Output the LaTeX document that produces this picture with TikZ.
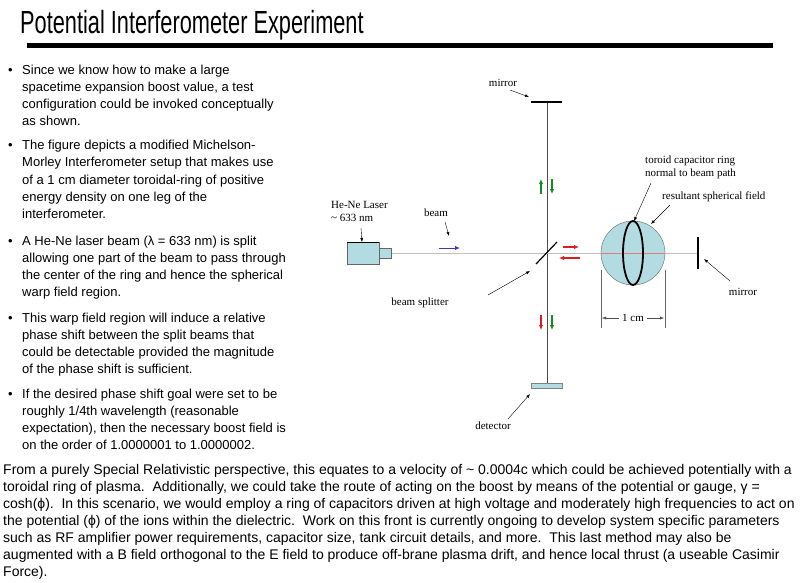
\documentclass[tikz,border=0pt]{standalone}
\usepackage{fontspec}
\setmainfont{Liberation Sans}
\newfontfamily\serifd{Liberation Serif}
\usetikzlibrary{arrows.meta}
\definecolor{lb}{RGB}{178,220,226}
\definecolor{dgreen}{RGB}{20,140,30}
\definecolor{dred}{RGB}{220,30,30}
\definecolor{dblue}{RGB}{60,60,170}
\begin{document}
\begin{tikzpicture}[x=1pt,y=-1pt,
  txt/.style={anchor=base west,inner sep=0,font=\fontsize{13}{15}\selectfont},
  par/.style={anchor=base west,inner sep=0,font=\fontsize{14}{16}\selectfont},
  lab/.style={inner sep=0,font=\serifd\fontsize{11}{13}\selectfont},
  ptr/.style={-{Latex[length=4pt,width=3pt]},black,line width=0.4pt},
  col/.style={-{Latex[length=5pt,width=4.5pt]},line width=1.6pt},
  beam/.style={line width=0.5pt}]
\useasboundingbox (0,0) rectangle (802,582);
\fill[white] (0,0) rectangle (802,582);
% title
\node[anchor=base west,inner sep=0,font=\fontsize{32}{36}\selectfont] (title) at (20,33) {\scalebox{0.68}[1]{Potential Interferometer Experiment}};
\fill (27,43) rectangle (773,48);
% bullets
\foreach \y in {74,149,245,322,398} \node[txt] at (8,\y) {•};
\node[txt] at (22,74) {Since we know how to make a large};
\node[txt] at (22,91) {spacetime expansion boost value, a test};
\node[txt] at (22,108) {configuration could be invoked conceptually};
\node[txt] at (22,125) {as shown.};
\node[txt] at (22,149) {The figure depicts a modified Michelson-};
\node[txt] at (22,166) {Morley Interferometer setup that makes use};
\node[txt] at (22,184) {of a 1 cm diameter toroidal-ring of positive};
\node[txt] at (22,201) {energy density on one leg of the};
\node[txt] at (22,218) {interferometer.};
\node[txt] at (22,245) {A He-Ne laser beam (λ = 633 nm) is split};
\node[txt] at (22,262) {allowing one part of the beam to pass through};
\node[txt] at (22,279) {the center of the ring and hence the spherical};
\node[txt] at (22,296) {warp field region.};
\node[txt] at (22,322) {This warp field region will induce a relative};
\node[txt] at (22,339) {phase shift between the split beams that};
\node[txt] at (22,356) {could be detectable provided the magnitude};
\node[txt] at (22,373) {of the phase shift is sufficient.};
\node[txt] at (22,398) {If the desired phase shift goal were set to be};
\node[txt] at (22,415) {roughly 1/4th wavelength (reasonable};
\node[txt] at (22,432) {expectation), then the necessary boost field is};
\node[txt] at (22,449) {on the order of 1.0000001 to 1.0000002.};
% bottom paragraph
\node[par] at (3,474) {From a purely Special Relativistic perspective, this equates to a velocity of \textasciitilde{} 0.0004c which could be achieved potentially with a};
\node[par] at (3,491) {toroidal ring of plasma.\ \ Additionally, we could take the route of acting on the boost by means of the potential or gauge, γ =};
\node[par] at (3,508) {cosh(ϕ).\ \ In this scenario, we would employ a ring of capacitors driven at high voltage and moderately high frequencies to act on};
\node[par] at (3,525) {the potential (ϕ) of the ions within the dielectric.\ \ Work on this front is currently ongoing to develop system specific parameters};
\node[par] at (3,542) {such as RF amplifier power requirements, capacitor size, tank circuit details, and more.\ \ This last method may also be};
\node[par] at (3,559) {augmented with a B field orthogonal to the E field to produce off-brane plasma drift, and hence local thrust (a useable Casimir};
\node[par] at (3,576) {Force).};
% ---- diagram ----
\coordinate (bs) at (547,253);
\coordinate (mt) at (547,102);
\coordinate (dt) at (547,383);
\coordinate (mr) at (698,253);
\coordinate (lz) at (391,253);
\draw[beam,black!70] (mt) -- (dt);
\draw[beam,black!25] (lz) -- (mr);
% sphere
\node[circle,draw=black!60,fill=lb,minimum size=64pt,inner sep=0] (sph) at (633,253) {};
\draw[beam,dred!60] (601,253) -- (665,253);
\draw[line width=1.8pt] (sph.center) ellipse (10 and 32);
% mirrors
\draw[line width=1.3pt] (531,102) -- (562,102);
\draw[line width=1.3pt] (698,237) -- (698,269);
% detector
\node[draw=black!50,fill=lb,minimum width=31pt,minimum height=5pt,inner sep=0] (det) at (547,385.5) {};
% laser
\node[draw=black!60,fill=lb,minimum width=32pt,minimum height=22pt,inner sep=0] (las) at (363,253) {};
\node[draw=black!60,fill=lb,minimum width=12pt,minimum height=10pt,inner sep=0] (noz) at (385,253) {};
\draw[line width=0.8pt] (347,242) -- (379,242);
% splitter
\draw[line width=1.2pt] (536,264) -- (557,242);
% coloured arrows
\draw[col,dblue,line width=1pt] (439,248) -- (460,248);
\draw[col,dred,line width=1.1pt] (563,247) -- (579,247);
\draw[col,dred,line width=1.1pt] (580,258) -- (559,258);
\draw[col,dgreen] (541,194) -- (541,179);
\draw[col,dgreen] (552,179) -- (552,194);
\draw[col,dred] (541,315) -- (541,330);
\draw[col,dgreen] (552,315) -- (552,330);
% labels
\node[lab] (lmt) at (503,83) {mirror};
\draw[ptr] (510,90) -- (529,97);
\node[lab,align=left,anchor=west] (llas) at (331,211) {He-Ne Laser\\\textasciitilde{} 633 nm};
\draw[ptr] (361,228) -- (362,242);
\node[lab] (lbeam) at (436,213) {beam};
\draw[ptr] (445,222) -- (449,236);
\node[lab] (lbs) at (420,303) {beam splitter};
\draw[ptr] (488,295) -- (530,271);
\node[lab] (ldet) at (493,426) {detector};
\draw[ptr] (508,419) -- (530,394);
\node[lab] (lmr) at (743,292) {mirror};
\draw[ptr] (730,281) -- (704,259);
\node[lab,align=left,anchor=west] (ltor) at (645,167) {toroid capacitor ring\\normal to beam path};
\draw[ptr] (651,183) -- (634,221);
\node[lab,anchor=west] (lres) at (662,197) {resultant spherical field};
\draw[ptr] (670,205) -- (651,224);
% 1 cm dimension
\draw[black!60,line width=0.5pt] (601,270) -- (601,328);
\draw[black!60,line width=0.5pt] (665,270) -- (665,328);
\node[lab] (lcm) at (633,318) {1 cm};
\draw[ptr,black!70] (lcm.west) ++(-3,0) -- (602,318);
\draw[ptr,black!70] (lcm.east) ++(3,0) -- (664,318);
\end{tikzpicture}
\end{document}
